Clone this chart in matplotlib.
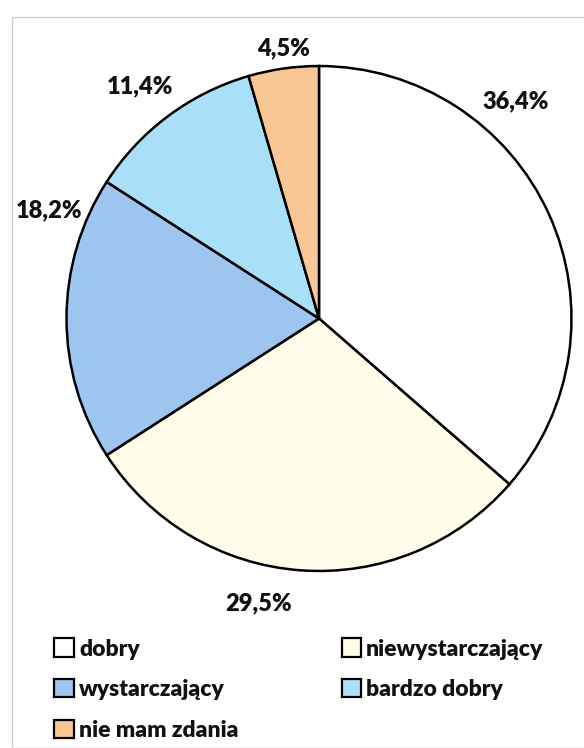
import matplotlib.pyplot as plt
from matplotlib.patches import Patch, Rectangle

# --- data ---
categories = ["dobry", "niewystarczający", "wystarczający", "bardzo dobry", "nie mam zdania"]
shares = [36.4, 29.5, 18.2, 11.4, 4.5]
labels = ["36,4%", "29,5%", "18,2%", "11,4%", "4,5%"]
colors = ["#FFFFFF", "#FFFDEA", "#9EC4F0", "#A9E0F7", "#F9C796"]

# label placement (pie data units, radius 1) - Excel "best fit" style
label_pos = [(0.78, 0.86), (-0.24, -1.13), (-1.07, 0.43), (-0.71, 0.92), (-0.14, 1.07)]

plt.rcParams["font.family"] = ["Lato", "DejaVu Sans"]

W, H = 584, 748
fig = plt.figure(figsize=(W / 100, H / 100), dpi=100)

# light frame of the chart area
fig.patches.append(Rectangle((12 / W, 0), 1, 1 - 17 / H, transform=fig.transFigure,
                             fill=False, edgecolor="#cfcfcf", linewidth=1.0))

cx, cy, r = 319, 318.5, 255
ax = fig.add_axes([(cx - r) / W, 1 - (cy + r) / H, 2 * r / W, 2 * r / H])
ax.pie(shares, colors=colors, startangle=90, counterclock=False, radius=1,
       wedgeprops=dict(edgecolor="black", linewidth=1.8))
ax.set_xlim(-1.01, 1.01)
ax.set_ylim(-1.01, 1.01)
ax.set_aspect("equal")
ax.axis("off")

for lab, (x, y) in zip(labels, label_pos):
    ax.text(x, y, lab, ha="center", va="center", fontsize=17, fontweight="heavy",
            color="#111111", clip_on=False)

# legend, row-wise order in two columns
order = [0, 2, 4, 1, 3]
handles = [Patch(facecolor=colors[i], edgecolor="black", linewidth=1.6, label=categories[i])
           for i in order]
fig.legend(handles=handles, ncol=2, loc="upper left", bbox_to_anchor=(43 / W, 1 - 627 / H),
           frameon=False, prop=dict(family=["Lato", "DejaVu Sans"], size=16.5, weight="heavy"),
           handlelength=0.85, handleheight=0.85, handletextpad=0.22, columnspacing=4.5,
           labelspacing=0.85, borderpad=0, labelcolor="#111111")

fig.savefig("out.png", dpi=100)
